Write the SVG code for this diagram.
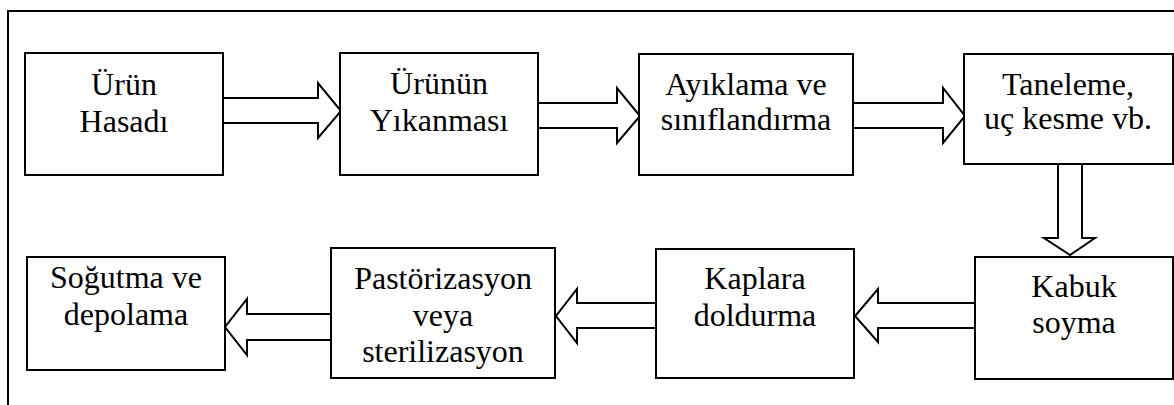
<svg xmlns="http://www.w3.org/2000/svg" width="1174" height="405" viewBox="0 0 1174 405">
<style>
.box{fill:#fff;stroke:#000;stroke-width:2}
.arr{fill:#fff;stroke:#000;stroke-width:2;stroke-linejoin:miter}
text{font-family:"Liberation Serif","Times New Roman",serif;font-size:32px;fill:#000;text-anchor:middle}
</style>
<rect width="1174" height="405" fill="#fff"/>
<path d="M8,410 V11 H1176" fill="none" stroke="#000" stroke-width="2"/>
<g id="connectors">
<path class="arr" d="M223,98 H318 V83 L341,111 L318,138 V123 H223 Z"/>
<path class="arr" d="M538,103 H617 V88 L640,116 L617,143 V128 H538 Z"/>
<path class="arr" d="M853,103 H943 V88 L965,116 L943,143 V128 H853 Z"/>
<path class="arr" d="M1058,164 V238 H1044 L1070,255 L1095,238 H1082 V164 Z"/>
<path class="arr" d="M975,303 H878 V289 L855,316 L878,342 V328 H975 Z"/>
<path class="arr" d="M656,303 H577 V289 L556,316 L577,343 V328 H656 Z"/>
<path class="arr" d="M331,314 H247 V299 L225,327 L247,355 V340 H331 Z"/>
</g>
<g id="n1"><rect class="box" x="25" y="53" width="198" height="122"/><text x="124" y="95">Ürün</text><text x="124" y="132">Hasadı</text></g>
<g id="n2"><rect class="box" x="340" y="53" width="198" height="122"/><text x="439" y="94">Ürünün</text><text x="439" y="131">Yıkanması</text></g>
<g id="n3"><rect class="box" x="639" y="54" width="214" height="121"/><text x="746" y="95">Ayıklama ve</text><text x="746" y="130">sınıflandırma</text></g>
<g id="n4"><rect class="box" x="964" y="54" width="209" height="110"/><text x="1068" y="95">Taneleme,</text><text x="1068" y="129">uç kesme vb.</text></g>
<g id="n5"><rect class="box" x="975" y="257" width="198" height="122"/><text x="1074" y="297">Kabuk</text><text x="1074" y="333">soyma</text></g>
<g id="n6"><rect class="box" x="656" y="249" width="198" height="129"/><text x="755" y="289">Kaplara</text><text x="755" y="326">doldurma</text></g>
<g id="n7"><rect class="box" x="331" y="248" width="224" height="130"/><text x="443" y="289">Pastörizasyon</text><text x="443" y="326">veya</text><text x="443" y="362">sterilizasyon</text></g>
<g id="n8"><rect class="box" x="27" y="257" width="198" height="113"/><text x="126" y="288">Soğutma ve</text><text x="126" y="325">depolama</text></g>
</svg>
